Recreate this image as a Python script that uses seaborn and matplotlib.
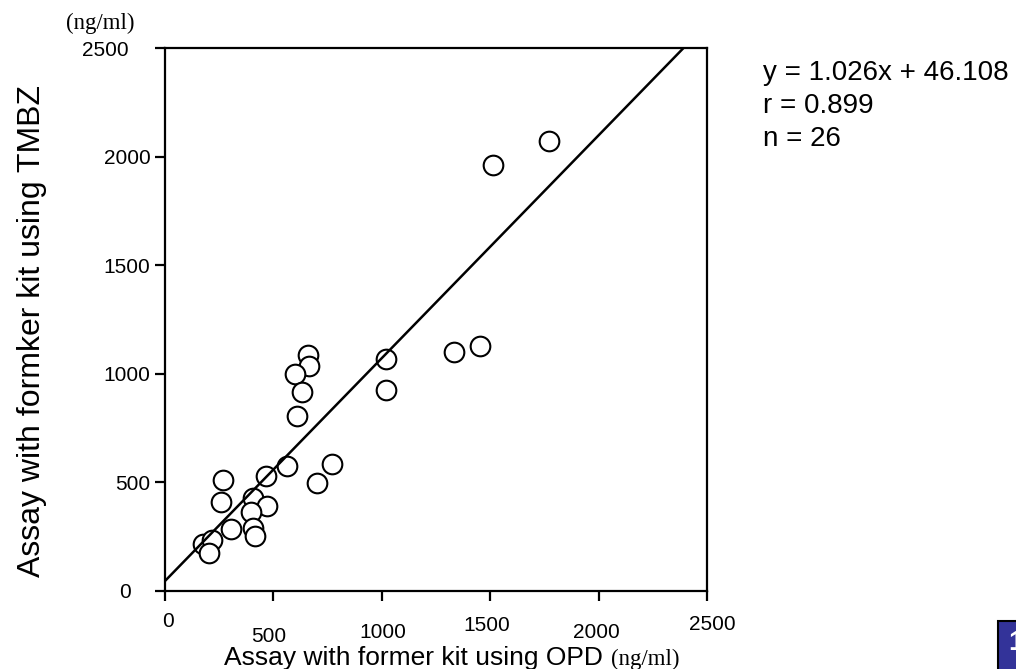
import matplotlib
matplotlib.use("Agg")
import matplotlib.pyplot as plt
import matplotlib.transforms as mtransforms
from matplotlib.patches import Rectangle
import numpy as np
import pandas as pd
import seaborn as sns

# Paired measurements (ng/ml): former kit with OPD vs kit with TMBZ
opd_values = [658, 666, 600, 631, 611, 1020, 1020, 562, 466, 769, 703, 266, 258,
              405, 472, 396, 408, 303, 415, 177, 216, 202, 1334, 1455, 1514, 1772]
tmbz_values = [1085, 1036, 1001, 916, 806, 1066, 927, 576, 530, 583, 499, 510, 410,
               428, 390, 364, 292, 287, 252, 215, 233, 175, 1100, 1128, 1960, 2071]

# Regression summary
slope = 1.026
intercept = 46.108
r_value = 0.899

axis_ticks = [0, 500, 1000, 1500, 2000, 2500]
tick_labels = ["0", "500", "1000", "1500", "2000", "2500"]

sns.set_theme(style="ticks")
plt.rcParams["font.family"] = ["Liberation Sans", "DejaVu Sans"]
plt.rcParams["text.color"] = "black"
plt.rcParams["xtick.color"] = "black"
plt.rcParams["ytick.color"] = "black"
plt.rcParams["axes.labelcolor"] = "black"

W, H = 1016, 669
fig = plt.figure(figsize=(W / 100, H / 100), dpi=100)
fig.patch.set_facecolor("white")

left, right, top, bottom = 165, 707, 48, 591
ax = fig.add_axes([left / W, 1 - bottom / H, (right - left) / W, (bottom - top) / H])

df = pd.DataFrame({"opd": opd_values, "tmbz": tmbz_values})
sns.scatterplot(data=df, x="opd", y="tmbz", ax=ax, marker="o", s=200,
                facecolor="white", edgecolor="black", linewidth=1.5, zorder=3)

x_end = (axis_ticks[-1] - intercept) / slope
line_x = np.array([0.0, x_end])
line_df = pd.DataFrame({"x": line_x, "y": slope * line_x + intercept})
sns.lineplot(data=line_df, x="x", y="y", ax=ax, color="black", linewidth=1.8, zorder=4)

ax.set_xlim(axis_ticks[0], axis_ticks[-1])
ax.set_ylim(axis_ticks[0], axis_ticks[-1])
ax.set_xticks(axis_ticks)
ax.set_xticklabels(tick_labels)
ax.set_yticks(axis_ticks)
ax.set_yticklabels(tick_labels)
ax.set_xlabel("")
ax.set_ylabel("")
ax.set_facecolor("white")
for sp in ax.spines.values():
    sp.set_visible(True)
    sp.set_linewidth(1.6)
    sp.set_color("black")
ax.tick_params(direction="out", length=7.5, width=1.6, labelsize=15,
               colors="black", labelcolor="black")

# Staggered tick label placement
x_pads = [7.6, 18.4, 15.5, 10.4, 15.5, 9.7]
x_nudge = [3, -5, 1, -3, -2, 5]
for tick, pad, dx in zip(ax.xaxis.get_major_ticks(), x_pads, x_nudge):
    tick.set_pad(pad)
    lab = tick.label1
    lab.set_transform(lab.get_transform() +
                      mtransforms.ScaledTranslation(dx / 100, 0, fig.dpi_scale_trans))
y_pads = [17.3, 3, 3, 3, 3, 18.7]
for tick, pad in zip(ax.yaxis.get_major_ticks(), y_pads):
    tick.set_pad(pad)

# Axis titles
fig.text(32 / W, 1 - 331 / H, "Assay with formker kit using TMBZ", rotation=90,
         ha="center", va="center", fontsize=23)
fig.text(100 / W, 1 - 29 / H, "(ng/ml)", family=["Liberation Serif"], fontsize=16.5,
         ha="center", va="baseline")
xl = fig.text(224 / W, 1 - 665 / H, "Assay with former kit using OPD", fontsize=19,
              ha="left", va="baseline")
renderer = fig.canvas.get_renderer()
bb = xl.get_window_extent(renderer)
fig.text((bb.x1 + 8) / W, 1 - 665 / H, "(ng/ml)", family=["Liberation Serif"],
         fontsize=16.5, ha="left", va="baseline")

# Regression statistics
stats = [f"y = {slope:.3f}x + {intercept:.3f}", f"r = {r_value:.3f}", f"n = {len(opd_values)}"]
for txt, base in zip(stats, [80, 113, 146]):
    fig.text(763 / W, 1 - base / H, txt, fontsize=20, ha="left", va="baseline")

# Page marker box
fig.patches.append(Rectangle((998 / W, -0.02), 0.05, (H - 621) / H + 0.02,
                             transform=fig.transFigure, facecolor="#333399",
                             edgecolor="black", linewidth=1.5))
fig.text(1008 / W, 1 - 630 / H, "1", color="white", fontweight="bold",
         fontsize=20, ha="left", va="top")

fig.savefig("out.png", dpi=100, facecolor="white")
